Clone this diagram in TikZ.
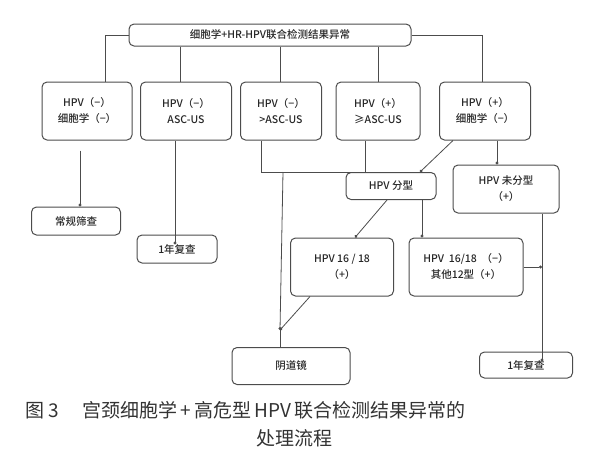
\documentclass[tikz,border=0pt]{standalone}
\usepackage{fontspec}
\setmainfont{Noto Sans CJK SC Medium}
\newfontfamily\capfont{Noto Sans CJK SC}
\usetikzlibrary{arrows.meta}
\begin{document}
\begin{tikzpicture}[x=1pt,y=-1pt,
  bx/.style={draw=black!70,line width=1pt,rounded corners=5pt,align=center,font=\fontsize{10.5}{16}\selectfont,inner sep=0pt,text=black!85},
  ln/.style={draw=black!70,line width=0.8pt},
  ar/.style={ln,-{Circle[length=3pt]}}]
\useasboundingbox (0,0) rectangle (600,459);
\node[bx,minimum width=282,minimum height=22] (top) at (270,35) {细胞学+HR-HPV联合检测结果异常};
\node[bx,minimum width=90,minimum height=58] (b1) at (87,111) {HPV（−）\\细胞学（−）};
\node[bx,minimum width=91,minimum height=58] (b2) at (186,111) {HPV（−）\\ASC-US};
\node[bx,minimum width=81,minimum height=58] (b3) at (281,111) {HPV（−）\\>ASC-US};
\node[bx,minimum width=84,minimum height=58] (b4) at (378,111) {HPV（+）\\≥ASC-US};
\node[bx,minimum width=91,minimum height=58] (b5) at (485,111) {HPV（+）\\细胞学（−）};
\node[bx,minimum width=89,minimum height=28] (c1) at (76,221) {常规筛查};
\node[bx,minimum width=80,minimum height=28] (c2) at (177,249) {1年复查};
\node[bx,minimum width=90,minimum height=27] (fx) at (391,186) {HPV\ 分型};
\node[bx,minimum width=106,minimum height=48] (wf) at (506,189) {HPV 未分型\\（+）};
\node[bx,minimum width=103,minimum height=58] (p1) at (342,267) {HPV 16 / 18\\（+）};
\node[bx,minimum width=114,minimum height=58] (p2) at (466,267) {HPV\ \ 16/18\ \ （−）\\其他12型（+）};
\node[bx,minimum width=118,minimum height=37] (ydj) at (291,366) {阴道镜};
\node[bx,minimum width=93,minimum height=26] (c3) at (526,365) {1年复查};
\draw[ln] (top.west) -- (105,35) -- (b1.north-|105,0);
\draw[ln] (top.east) -- (482,35) -- (b5.north-|482,0);
\draw[ln] (top.south-|180,0) -- (b2.north-|180,0);
\draw[ln] (top.south-|280,0) -- (b3.north-|280,0);
\draw[ln] (top.south-|378,0) -- (b4.north-|378,0);
\draw[ar] (b1.south-|80,0) ++(0,10) -- (c1.north-|80,0);
\draw[ar] (b2.south-|175,0) -- ([yshift=-10pt]c2.north-|175,0);
\coordinate (j1) at (261,172); \coordinate (j2) at (365,172);
\draw[ln] (b3.south-|261,0) -- (j1) -- (j2) -- (b4.south-|365,0);
\coordinate (m) at (283,172); \coordinate (ya) at (280,330);
\draw[ar] (m) -- (ya);
\draw[ln] (ya) -- (ydj.north-|280,0);
\draw[ar] (p1.south-|310,0) -- (ya);
\draw[ar] (b5.south-|453,0) -- (fx.north-|420,0);
\draw[ar] (b5.south-|497,0) -- (wf.north-|497,0);
\draw[ar] (fx.south-|387,0) -- (p1.north-|355,0);
\draw[ar] (fx.south-|422,0) -- (p2.north-|422,0);
\coordinate (k) at (542,267);
\draw[ar] (p2.east|-k) -- (k);
\draw[ar] (wf.south-|542,0) -- ([yshift=-10pt]c3.north-|542,0);
\node[font=\capfont\fontsize{19}{22}\selectfont,anchor=west,text=black!80] (cap1) at (22,410) {图 3\hspace{1.2em}宫颈细胞学\,+\,高危型\,HPV\,联合检测结果异常的};
\node[font=\capfont\fontsize{19}{22}\selectfont,text=black!80] (cap2) at (294,438) {处理流程};
\end{tikzpicture}
\end{document}
